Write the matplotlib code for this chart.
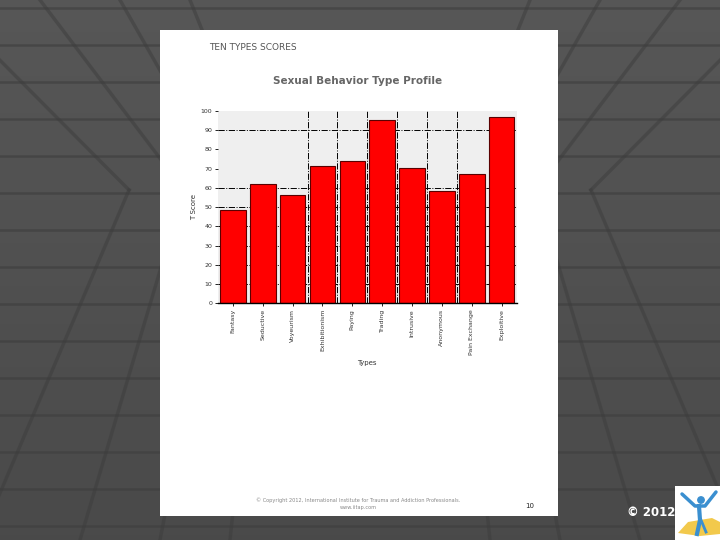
import numpy as np
import matplotlib
matplotlib.use("Agg")
import matplotlib.pyplot as plt
from matplotlib.patches import Rectangle, Polygon

# data
types = ["Fantasy", "Seductive", "Voyeurism", "Exhibitionism", "Paying",
         "Trading", "Intrusive", "Anonymous", "Pain Exchange", "Exploitive"]
t_scores = [48.7, 61.9, 56.2, 71.2, 74.2, 95.5, 70.1, 58.3, 67.1, 96.6]
y_ticks = [0, 10, 20, 30, 40, 50, 60, 70, 80, 90, 100]

fig = plt.figure(figsize=(7.2, 5.4), dpi=100)
fig.patch.set_facecolor("#4a4a4a")

### Slide background (dark tiled floor look)
bg = fig.add_axes([0, 0, 1, 1])
bg.set_xlim(0, 720)
bg.set_ylim(540, 0)
bg.axis("off")
grad = np.linspace(0.34, 0.29, 100).reshape(-1, 1)
bg.imshow(np.dstack([grad, grad, grad]), extent=[0, 720, 540, 0], aspect="auto")
for yy in np.arange(8, 540, 37):
    bg.plot([0, 720], [yy, yy], color="#3d3d3d", lw=1.8, alpha=0.6)
for x0 in [-60, 40, 120, 190, 530, 600, 680, 780]:
    x1 = 360 + (x0 - 360) * 0.55
    bg.plot([x0, x1], [0, 190], color="#3d3d3d", lw=2.5, alpha=0.5)
    bg.plot([x1, x0 - 40 * np.sign(x0 - 360)], [190, 540], color="#3d3d3d", lw=2.5, alpha=0.5)

# white page
bg.add_patch(Rectangle((160, 30), 398, 485.5, facecolor="white", edgecolor="none", zorder=5))

# page texts
bg.text(209, 47, "TEN TYPES SCORES", fontsize=6.5, color="#555555", va="center", zorder=6)
bg.text(358, 81, "Sexual Behavior Type Profile", fontsize=7.5, color="#666666",
        fontweight="bold", ha="center", va="center", zorder=6)
bg.text(358, 500, "© Copyright 2012, International Institute for Trauma and Addiction Professionals.",
        fontsize=3.6, color="#888888", ha="center", va="center", zorder=6)
bg.text(358, 507, "www.iitap.com", fontsize=3.6, color="#888888", ha="center", va="center", zorder=6)
bg.text(530, 506, "10", fontsize=5, color="#222222", ha="center", va="center", zorder=6)

# copyright and logo
bg.text(651, 512, "© 2012", fontsize=8.5, color="white", ha="center", va="center",
        fontweight="bold", zorder=6)
bg.add_patch(Rectangle((675, 486), 45, 54, facecolor="white", edgecolor="none", zorder=6))
bg.add_patch(Polygon([[678, 533], [688, 522], [712, 518], [720, 522], [720, 534], [700, 536]],
                     closed=True, facecolor="#f2c94c", edgecolor="none", zorder=7))
bg.plot([682, 695, 705, 716], [494, 506, 506, 492], color="#3a8fd0", lw=2.5,
        solid_capstyle="round", zorder=8)
bg.plot([699, 700, 697], [506, 520, 534], color="#3a8fd0", lw=3, zorder=8)
bg.plot([701, 706], [520, 532], color="#3a8fd0", lw=2, zorder=8)
bg.add_patch(plt.Circle((701, 500), 3.2, color="#3a8fd0", zorder=8))

### The chart itself
ax = fig.add_axes([0.3028, 0.4381, 0.4146, 0.3565])
ax.set_zorder(10)
ax.set_facecolor("#efefef")
x = np.arange(len(types))

# dash-dot reference lines (as in the SPSS output)
for yv in [10, 20, 30, 40, 50, 60, 90]:
    ax.axhline(yv, color="black", lw=0.7, linestyle="-.", zorder=1)
for xv in x[2:8] + 0.5:
    ax.axvline(xv, color="black", lw=0.7, linestyle="-.", zorder=1)

ax.bar(x, t_scores, width=0.86, color="#ff0000", edgecolor="#5a0000", linewidth=0.8, zorder=2)

ax.set_xlim(-0.5, 9.5)
ax.set_ylim(0, 100)
ax.set_yticks(y_ticks)
ax.set_yticklabels([str(v) for v in y_ticks], fontsize=4.5, color="#333333")
ax.set_xticks(x)
ax.set_xticklabels(types, rotation=90, fontsize=4.5, color="#333333")
ax.tick_params(axis="both", length=2, width=0.6, pad=2)
ax.set_ylabel("T Score", fontsize=5, color="#333333", labelpad=3)
ax.set_xlabel("Types", fontsize=5, color="#333333", labelpad=4)
for s in ["top", "right", "left"]:
    ax.spines[s].set_visible(False)
ax.spines["bottom"].set_linewidth(1.0)

fig.savefig("out.png", dpi=100, facecolor=fig.get_facecolor())
